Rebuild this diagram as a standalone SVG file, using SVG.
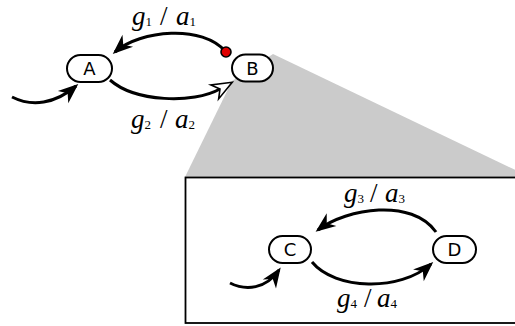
<svg xmlns="http://www.w3.org/2000/svg" width="515" height="326" viewBox="0 0 515 326">
<style>
.node rect{fill:#fff;stroke:#000;stroke-width:2}
.node text{font-family:"DejaVu Sans",sans-serif;font-size:18px;text-anchor:middle;fill:#000}
.edge{fill:none;stroke:#000;stroke-width:3}
.lbl{font-family:"Liberation Serif",serif;font-size:27px;fill:#000}
.it{font-style:italic}
.sub{font-size:13px;font-style:normal}
</style>
<defs>
<marker id="ah" markerUnits="userSpaceOnUse" viewBox="-24 -12 30 24" markerWidth="30" markerHeight="24" refX="-3" refY="0" orient="auto" overflow="visible">
<path d="M0,0 L-20,-8 L-14,0 L-20,8 Z" fill="#000"/>
</marker>
<marker id="ao" markerUnits="userSpaceOnUse" viewBox="-24 -12 30 24" markerWidth="30" markerHeight="24" refX="-14" refY="0" orient="auto" overflow="visible">
<path d="M0,0 L-20,-8 L-14,0 L-20,8 Z" fill="#fff" stroke="#000" stroke-width="1.6" stroke-linejoin="miter"/>
</marker>
</defs>
<polygon id="zoom" points="232,81 273,54 530,177 185,177" fill="#cbcbcb"/>
<rect id="box" x="185.5" y="177.5" width="345" height="145.5" fill="#fff" stroke="#000" stroke-width="1.8"/>
<g id="connectors">
<path class="edge" d="M226,52 C203,24 140,30 115,52" marker-end="url(#ah)"/>
<path class="edge" d="M110,80 C135,102 193,104 220,89" marker-end="url(#ao)"/>
<path class="edge" d="M12,97 C32,107 55,104 76,86" marker-end="url(#ah)"/>
<path class="edge" d="M436,232 C412,198 347,208 318,230" marker-end="url(#ah)"/>
<path class="edge" d="M312,262 C335,290 400,292 431,264" marker-end="url(#ah)"/>
<path class="edge" d="M230,283 C246,291 266,289 279,270" marker-end="url(#ah)"/>
</g>
<g id="A" class="node"><rect x="67" y="55" width="45" height="27" rx="13.5"/><text x="89.5" y="75">A</text></g>
<g id="B" class="node"><rect x="232" y="54.5" width="41" height="27" rx="13.5"/><text x="252.5" y="74.5">B</text></g>
<g id="C" class="node"><rect x="269" y="236" width="42" height="27" rx="13.5"/><text x="290" y="256">C</text></g>
<g id="D" class="node"><rect x="433" y="236" width="43" height="27" rx="13.5"/><text x="454.5" y="256">D</text></g>
<circle id="dot" cx="226" cy="52" r="5" fill="#e00000" stroke="#000" stroke-width="1.6"/>
<g id="labels">
<text class="lbl" y="25"><tspan x="132" class="it">g</tspan><tspan class="sub" dy="1">1</tspan><tspan x="160" dy="-1">/</tspan><tspan x="176" class="it">a</tspan><tspan class="sub" dy="1">1</tspan></text>
<text class="lbl" y="128"><tspan x="131" class="it">g</tspan><tspan class="sub" dy="1">2</tspan><tspan x="160" dy="-1">/</tspan><tspan x="175" class="it">a</tspan><tspan class="sub" dy="1">2</tspan></text>
<text class="lbl" y="202"><tspan x="344" class="it">g</tspan><tspan class="sub" dy="1">3</tspan><tspan x="370" dy="-1">/</tspan><tspan x="385" class="it">a</tspan><tspan class="sub" dy="1">3</tspan></text>
<text class="lbl" y="307"><tspan x="337" class="it">g</tspan><tspan class="sub" dy="1">4</tspan><tspan x="364" dy="-1">/</tspan><tspan x="377" class="it">a</tspan><tspan class="sub" dy="1">4</tspan></text>
</g>
</svg>
